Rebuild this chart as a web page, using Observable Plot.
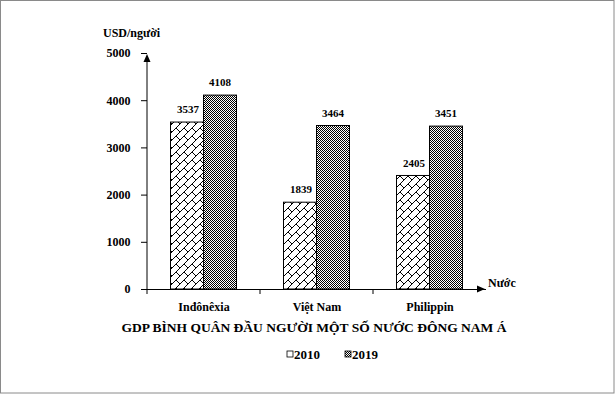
<!DOCTYPE html>
<html>
<head>
<meta charset="utf-8">
<script src="https://cdn.jsdelivr.net/npm/d3@7"></script>
<script src="https://cdn.jsdelivr.net/npm/@observablehq/plot@0.6"></script>
<style>
  html, body { margin: 0; padding: 0; background: #fff; }
  #chart { position: relative; width: 615px; height: 394px; }
  #chart svg { display: block; }
</style>
</head>
<body>
<div id="chart"></div>
<script>
// ---- data ----
const countries = ["Inđônêxia", "Việt Nam", "Philippin"];
const values2010 = [3537, 1839, 2405];
const values2019 = [4108, 3464, 3451];
const years = ["2010", "2019"];
const yTicks = [0, 1000, 2000, 3000, 4000, 5000];
const title = "GDP BÌNH QUÂN ĐẦU NGƯỜI MỘT SỐ NƯỚC ĐÔNG NAM Á";
const yUnit = "USD/người";
const xUnit = "Nước";

const d2010 = countries.map((c, i) => ({country: c, value: values2010[i]}));
const d2019 = countries.map((c, i) => ({country: c, value: values2019[i]}));

const FONT = "'Liberation Serif', 'Times New Roman', serif";
const W = 615, H = 394;

const plot = Plot.plot({
  width: W,
  height: H,
  marginLeft: 147,
  marginRight: 129,
  marginTop: 53,
  marginBottom: 105,
  style: {fontFamily: FONT, fontWeight: "bold", fontSize: "12px", color: "#000", background: "#fff"},
  x: {domain: countries, padding: 0, axis: null, label: null},
  y: {domain: [0, 5000], axis: null, label: null},
  marks: [
    Plot.barY(d2010, {x: "country", y: "value", fill: "url(#pat2010)", stroke: "#000", strokeWidth: 1,
      insetLeft: 23.5, insetRight: 56.5}),
    Plot.barY(d2019, {x: "country", y: "value", fill: "url(#pat2019)", stroke: "#000", strokeWidth: 1,
      insetLeft: 56.5, insetRight: 23.5}),
    Plot.text(d2010, {x: "country", y: "value", text: d => String(d.value), dx: -16, dy: -13,
      fontSize: 11, fontWeight: "bold", fill: "#000"}),
    Plot.text(d2019, {x: "country", y: "value", text: d => String(d.value), dx: 16, dy: -13,
      fontSize: 11, fontWeight: "bold", fill: "#000"}),
    Plot.axisY({ticks: yTicks, tickSize: 6, tickPadding: 11, tickFormat: d => String(d),
      fontSize: 12, fontWeight: "bold", anchor: "left", label: null}),
    Plot.axisX({tickSize: 0, tickPadding: 13, fontSize: 12, fontWeight: "bold", anchor: "bottom", label: null}),
    Plot.ruleY([0], {stroke: "#000", strokeWidth: 1})
  ]
});

const svg = d3.select(plot);
const defs = svg.insert("defs", ":first-child");

// 2010: diagonal brick pattern
const p1 = defs.append("pattern").attr("id", "pat2010").attr("patternUnits", "userSpaceOnUse")
  .attr("width", 8).attr("height", 8);
p1.append("rect").attr("width", 8).attr("height", 8).attr("fill", "#fff");
p1.append("path").attr("d", "M-1,9L9,-1M-1,1L1,-1M7,9L9,7M0,0L4,4")
  .attr("stroke", "#000").attr("stroke-width", 1).attr("fill", "none");

// 2019: dense checker pattern
const p2 = defs.append("pattern").attr("id", "pat2019").attr("patternUnits", "userSpaceOnUse")
  .attr("width", 2).attr("height", 2);
p2.append("rect").attr("width", 2).attr("height", 2).attr("fill", "#fff");
p2.append("rect").attr("x", 0).attr("y", 0).attr("width", 1).attr("height", 1).attr("fill", "#000");
p2.append("rect").attr("x", 1).attr("y", 1).attr("width", 1).attr("height", 1).attr("fill", "#000");

const xs = plot.scale("x");
const ys = plot.scale("y");
const x0 = xs.range[0], x1 = xs.range[1];
const yBase = ys.apply(0), yTop = ys.apply(5000);

const g = svg.append("g").attr("stroke", "#000").attr("fill", "#000");
// y axis line with arrow
g.append("line").attr("x1", x0).attr("x2", x0).attr("y1", yBase).attr("y2", yTop + 6);
g.append("path").attr("d", `M${x0},${yTop + 1}L${x0 - 3.5},${yTop + 9}L${x0 + 3.5},${yTop + 9}Z`).attr("stroke", "none");
// x axis arrow
g.append("path").attr("d", `M${x1 - 1},${yBase}L${x1 - 9},${yBase - 3.5}L${x1 - 9},${yBase + 3.5}Z`).attr("stroke", "none");
// category dividers
countries.forEach(c => {
  const bx = xs.apply(c);
  g.append("line").attr("x1", bx).attr("x2", bx).attr("y1", yBase).attr("y2", yBase + 5);
});

const t = svg.append("g").attr("font-family", FONT).attr("font-weight", "bold").attr("fill", "#000");
t.append("text").attr("x", 103).attr("y", 37).attr("font-size", 12).attr("text-anchor", "start").text(yUnit);
t.append("text").attr("x", 488).attr("y", 287).attr("font-size", 12).attr("text-anchor", "start").text(xUnit);
t.append("text").attr("x", 314).attr("y", 332).attr("font-size", 13.5)
  .attr("text-anchor", "middle").text(title);

// legend
const leg = svg.append("g").attr("font-family", FONT).attr("font-weight", "bold").attr("font-size", 13)
  .attr("text-anchor", "start");
const legX = [287, 345];
years.forEach((yr, i) => {
  leg.append("rect").attr("x", legX[i]).attr("y", 351).attr("width", 6).attr("height", 6)
    .attr("fill", i === 0 ? "#fff" : "url(#pat2019)").attr("stroke", "#000").attr("stroke-width", 0.8);
  leg.append("text").attr("x", legX[i] + 7).attr("y", 359).text(yr);
});

// outer frame
svg.append("rect").attr("x", 0.5).attr("y", 0.5).attr("width", W - 1.5).attr("height", H - 1.5)
  .attr("fill", "none").attr("stroke", "#8a8a8a").attr("stroke-width", 1);

document.getElementById("chart").appendChild(plot);
</script>
</body>
</html>
